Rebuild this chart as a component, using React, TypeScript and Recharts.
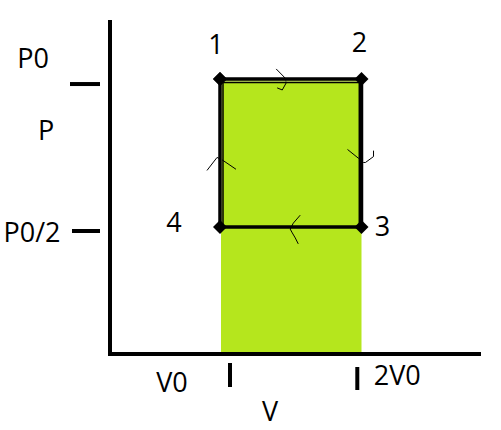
import React from 'react';
import { ComposedChart, XAxis, YAxis, Scatter, ReferenceArea, Label } from 'recharts';

// ---- data ----
const cycleV = [1, 2, 2, 1, 1];
const cycleP = [1, 1, 0.5, 0.5, 1];
const stateLabels = ['1', '2', '3', '4', ''];

// hand-drawn double stroke along the 4-1-2-3 sides
const gapV = [1.0106, 1.0106, 1.9894, 1.9894];
const gapP = [0.5, 0.9932, 0.9932, 0.5];
const innerV = [1.0212, 1.0212, 1.9844, 1.9844];
const innerP = [0.5, 0.9882, 0.9882, 0.5];

const fillV = [1.007, 2];
const fillTopP = 1;

const xTickValues = [1.0707, 1.9703];
const xTickLabels = ['V0', '2V0'];
const yTickValues = [0.983, 0.4865];
const yTickLabels = ['P0', 'P0/2'];

const xDomain = [0.2226, 2.8304];
const yDomain = [0.0709, 1.1926];

// hand-drawn direction marks (V, P)
const arrowTopV = [1.397, 1.461, 1.468, 1.44, 1.404];
const arrowTopP = [1.034, 1.003, 0.987, 0.963, 0.97];
const arrowLeftV = [0.908, 0.979, 1.021, 1.064, 1.113];
const arrowLeftP = [0.691, 0.735, 0.725, 0.711, 0.695];
const arrowRightV = [1.901, 1.979, 2.014, 2.028, 2.085, 2.085];
const arrowRightP = [0.762, 0.732, 0.718, 0.718, 0.738, 0.758];
const arrowBottomV = [1.567, 1.518, 1.496, 1.511, 1.532, 1.553];
const arrowBottomP = [0.54, 0.513, 0.493, 0.48, 0.463, 0.443];

const zip = (vs: number[], ps: number[]) => vs.map((v, i) => ({ v, p: ps[i] }));
const cycleData = cycleV.map((v, i) => ({ v, p: cycleP[i], label: stateLabels[i] }));

// ---- styles ----
const FONT = '"Open Sans", sans-serif';
const FS = 27;
const GREEN = '#b5e61d';
const stateLabelOffsets = [
  { dx: -4, dy: -25 },
  { dx: -2, dy: -27 },
  { dx: 21, dy: 9 },
  { dx: -46, dy: 5 },
  { dx: 0, dy: 0 },
];
const xTickStyle = [
  { l1: 9, l2: 33, dx: -58, dy: 38 },
  { l1: 13, l2: 36, dx: 40, dy: 31 },
];
const yTickStyle = [
  { l1: -40, l2: -10, dx: -77, dy: -16 },
  { l1: -38, l2: -10, dx: -78, dy: 11 },
];

const XTick = (props: any) => {
  const { x, y, index } = props;
  const s = xTickStyle[index];
  return (
    <g>
      <line x1={x} x2={x} y1={y + s.l1} y2={y + s.l2} stroke="#000" strokeWidth={4} />
      <text x={x + s.dx} y={y + s.dy} textAnchor="middle" fontFamily={FONT} fontSize={FS} fill="#000">
        {xTickLabels[index]}
      </text>
    </g>
  );
};

const YTick = (props: any) => {
  const { x, y, index } = props;
  const s = yTickStyle[index];
  return (
    <g>
      <line x1={x + s.l1} x2={x + s.l2} y1={y} y2={y} stroke="#000" strokeWidth={4} />
      <text x={x + s.dx} y={y + s.dy} textAnchor="middle" fontFamily={FONT} fontSize={FS} fill="#000">
        {yTickLabels[index]}
      </text>
    </g>
  );
};

const Diamond = (props: any) => {
  const { cx, cy, payload, index } = props;
  const r = 7;
  const o = stateLabelOffsets[index] || { dx: 0, dy: 0 };
  return (
    <g>
      <polygon points={`${cx},${cy - r} ${cx + r},${cy} ${cx},${cy + r} ${cx - r},${cy}`} fill="#000" />
      {payload && payload.label ? (
        <text x={cx + o.dx} y={cy + o.dy} textAnchor="middle" fontFamily={FONT} fontSize={FS} fill="#000">
          {payload.label}
        </text>
      ) : null}
    </g>
  );
};

const NoShape = () => <g />;

const thin = { stroke: '#000', strokeWidth: 1 };

export default function App() {
  return (
    <div style={{ position: 'absolute', left: 0, top: 0, width: 501, height: 430, background: '#fff' }}>
      <ComposedChart width={501} height={430} margin={{ top: 22, right: 22, bottom: 36, left: 50 }}>
        <XAxis
          type="number"
          dataKey="v"
          domain={xDomain}
          allowDataOverflow
          ticks={xTickValues}
          interval={0}
          tickSize={0}
          tickMargin={0}
          tickLine={false}
          height={40}
          axisLine={{ stroke: '#000', strokeWidth: 4, strokeLinecap: 'square' }}
          tick={<XTick />}
        >
          <Label
            content={() => (
              <text x={270} y={421} textAnchor="middle" fontFamily={FONT} fontSize={FS} fill="#000">
                V
              </text>
            )}
          />
        </XAxis>
        <YAxis
          type="number"
          dataKey="p"
          domain={yDomain}
          allowDataOverflow
          ticks={yTickValues}
          interval={0}
          tickSize={0}
          tickMargin={0}
          tickLine={false}
          width={60}
          axisLine={{ stroke: '#000', strokeWidth: 4, strokeLinecap: 'square' }}
          tick={<YTick />}
        >
          <Label
            content={() => (
              <text x={46} y={140} textAnchor="middle" fontFamily={FONT} fontSize={FS} fill="#000">
                P
              </text>
            )}
          />
        </YAxis>
        <ReferenceArea
          x1={fillV[0]}
          x2={fillV[1]}
          y1={yDomain[0]}
          y2={fillTopP}
          fill={GREEN}
          fillOpacity={1}
          stroke="none"
          ifOverflow="visible"
        />
        <Scatter data={zip(arrowTopV, arrowTopP)} line={thin} lineType="joint" shape={NoShape} isAnimationActive={false} />
        <Scatter data={zip(arrowLeftV, arrowLeftP)} line={thin} lineType="joint" shape={NoShape} isAnimationActive={false} />
        <Scatter data={zip(arrowRightV, arrowRightP)} line={thin} lineType="joint" shape={NoShape} isAnimationActive={false} />
        <Scatter data={zip(arrowBottomV, arrowBottomP)} line={thin} lineType="joint" shape={NoShape} isAnimationActive={false} />
        <Scatter
          data={zip(gapV, gapP)}
          line={{ stroke: '#e4f3a6', strokeWidth: 1.2 }}
          lineType="joint"
          shape={NoShape}
          isAnimationActive={false}
        />
        <Scatter
          data={zip(innerV, innerP)}
          line={{ stroke: '#000', strokeWidth: 1.5 }}
          lineType="joint"
          shape={NoShape}
          isAnimationActive={false}
        />
        <Scatter
          data={cycleData}
          line={{ stroke: '#000', strokeWidth: 3.5 }}
          lineType="joint"
          shape={Diamond}
          isAnimationActive={false}
        />
      </ComposedChart>
    </div>
  );
}
